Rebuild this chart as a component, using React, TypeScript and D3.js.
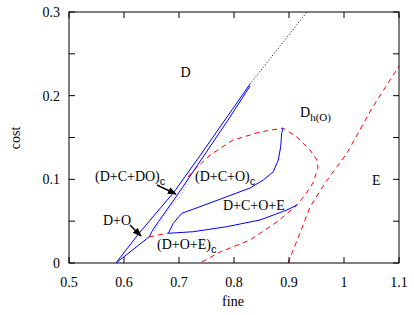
import React, { useEffect, useRef } from "react";
import * as d3 from "d3";

// phase boundaries as [fine, cost]
const outerBlue: [number, number][] = [
  [0.5855, 0], [0.6273, 0.0355], [0.6909, 0.0848], [0.7364, 0.1266], [0.8291, 0.2139],
];
const innerBlue: [number, number][] = [
  [0.5855, 0], [0.646, 0.0314], [0.6504, 0.0374], [0.6624, 0.0493], [0.6945, 0.0789],
  [0.7891, 0.1708], [0.8291, 0.2115],
];
const dottedBlue: [number, number][] = [
  [0.6545, 0.0382], [0.6727, 0.0562], [0.6909, 0.0717], [0.7036, 0.08], [0.7145, 0.0956],
];
const loopUpper: [number, number][] = [
  [0.6805, 0.0355], [0.6896, 0.0474], [0.7049, 0.0594], [0.7382, 0.0673], [0.7867, 0.0792],
  [0.8291, 0.0896], [0.8533, 0.0992], [0.8715, 0.1091], [0.8805, 0.1231], [0.8849, 0.1389],
  [0.8867, 0.155], [0.8891, 0.1613],
];
const loopLower: [number, number][] = [
  [0.6805, 0.0355], [0.726, 0.0374], [0.7867, 0.0434], [0.8473, 0.0514], [0.8958, 0.0633],
  [0.9145, 0.0693],
];
const redLoop: [number, number][] = [
  [0.7164, 0.1027], [0.7236, 0.1087], [0.7564, 0.129], [0.7982, 0.147], [0.8473, 0.1565],
  [0.8891, 0.1613], [0.9145, 0.1505], [0.9382, 0.135], [0.9509, 0.1231], [0.9527, 0.1135],
  [0.9436, 0.0956], [0.9291, 0.0812], [0.9145, 0.0693], [0.8782, 0.049], [0.8291, 0.0275],
  [0.7745, 0.0131], [0.7382, 0],
];
const redStub: [number, number][] = [[0.6455, 0.0311], [0.68, 0.0358]];
const redE: [number, number][] = [
  [0.8982, 0], [0.9164, 0.0299], [0.9382, 0.0669], [0.9655, 0.0956], [1.0055, 0.1314],
  [1.0509, 0.1852], [1.1, 0.2354],
];
const blackDotted: [number, number][] = [[0.8291, 0.2139], [0.9327, 0.3]];

const xTicks = [0.5, 0.6, 0.7, 0.8, 0.9, 1, 1.1];
const xTickLabels = ["0.5", "0.6", "0.7", "0.8", "0.9", "1", "1.1"];
const yTicks = [0, 0.1, 0.2, 0.3];
const yTickLabels = ["0", "0.1", "0.2", "0.3"];
const yMinorTicks = [0.05, 0.15, 0.25];

// [label, subscript, x, y]
const labels: [string, string, number, number][] = [
  ["D", "", 0.7025, 0.2222],
  ["D", "h(O)", 0.92, 0.1744],
  ["E", "", 1.0509, 0.0932],
  ["(D+C+DO)", "c", 0.5473, 0.098],
  ["D+O", "", 0.5618, 0.0454],
  ["(D+C+O)", "c", 0.7291, 0.098],
  ["D+C+O+E", "", 0.78, 0.0633],
  ["(D+O+E)", "c", 0.66, 0.0167],
];
// [x1, y1, x2, y2]
const arrows: [number, number, number, number][] = [
  [0.66, 0.0932, 0.6945, 0.0824],
  [0.6109, 0.0454, 0.6309, 0.0323],
];

export default function App() {
  const ref = useRef<SVGSVGElement>(null);
  const width = 414, height = 315;
  const left = 69, right = 399, top = 12, bottom = 263;

  useEffect(() => {
    const svg = d3.select(ref.current);
    svg.selectAll("*").remove();
    const x = d3.scaleLinear().domain([0.5, 1.1]).range([left, right]);
    const y = d3.scaleLinear().domain([0, 0.3]).range([bottom, top]);
    const font = "'Liberation Serif', 'Times New Roman', serif";

    const defs = svg.append("defs");
    defs.append("marker")
      .attr("id", "head")
      .attr("viewBox", "0 0 10 10")
      .attr("refX", 9).attr("refY", 5)
      .attr("markerWidth", 6).attr("markerHeight", 6)
      .attr("orient", "auto")
      .append("path").attr("d", "M0,1 L10,5 L0,9 Z").attr("fill", "black");

    const line = d3.line<[number, number]>().x(d => x(d[0])).y(d => y(d[1]));
    const g = svg.append("g");

    const draw = (pts: [number, number][], color: string, dash: string | null, w = 1) => {
      g.append("path")
        .attr("d", line(pts))
        .attr("fill", "none")
        .attr("stroke", color)
        .attr("stroke-width", w)
        .attr("stroke-dasharray", dash);
    };

    draw(redLoop, "#ff0000", "5,4");
    draw(redStub, "#ff0000", "5,4");
    draw(redE, "#ff0000", "5,4");
    draw(blackDotted, "#000000", "1,2");
    draw(dottedBlue, "#8080ff", "1,2");
    draw(outerBlue, "#0000ff", null);
    draw(innerBlue, "#0000ff", null);
    draw(loopUpper, "#0000ff", null);
    draw(loopLower, "#0000ff", null);

    // frame and ticks
    svg.append("rect")
      .attr("x", left).attr("y", top)
      .attr("width", right - left).attr("height", bottom - top)
      .attr("fill", "none").attr("stroke", "black").attr("stroke-width", 1);

    const tl = 6;
    xTicks.forEach(t => {
      svg.append("line").attr("x1", x(t)).attr("x2", x(t)).attr("y1", bottom).attr("y2", bottom - tl).attr("stroke", "black");
      svg.append("line").attr("x1", x(t)).attr("x2", x(t)).attr("y1", top).attr("y2", top + tl).attr("stroke", "black");
    });
    [...yTicks, ...yMinorTicks].forEach(t => {
      svg.append("line").attr("x1", left).attr("x2", left + tl).attr("y1", y(t)).attr("y2", y(t)).attr("stroke", "black");
      svg.append("line").attr("x1", right).attr("x2", right - tl).attr("y1", y(t)).attr("y2", y(t)).attr("stroke", "black");
    });

    xTicks.forEach((t, i) => {
      svg.append("text").attr("x", x(t)).attr("y", bottom + 24)
        .attr("text-anchor", "middle").attr("font-family", font).attr("font-size", 14)
        .text(xTickLabels[i]);
    });
    yTicks.forEach((t, i) => {
      svg.append("text").attr("x", left - 9).attr("y", y(t) + 5)
        .attr("text-anchor", "end").attr("font-family", font).attr("font-size", 14)
        .text(yTickLabels[i]);
    });

    svg.append("text").attr("x", 233).attr("y", 306)
      .attr("text-anchor", "middle").attr("font-family", font).attr("font-size", 14).text("fine");
    svg.append("text").attr("transform", "translate(20,138) rotate(-90)")
      .attr("text-anchor", "middle").attr("font-family", font).attr("font-size", 14).text("cost");

    labels.forEach(([txt, sub, lx, ly]) => {
      const t = svg.append("text").attr("x", x(lx)).attr("y", y(ly))
        .attr("font-family", font).attr("font-size", 14);
      t.append("tspan").text(txt);
      if (sub) {
        t.append("tspan").attr("dy", 4).attr("font-size", 11)
          .attr("font-family", sub === "c" ? "'Liberation Sans', Arial, sans-serif" : font)
          .text(sub);
      }
    });

    arrows.forEach(([x1, y1, x2, y2]) => {
      svg.append("line")
        .attr("x1", x(x1)).attr("y1", y(y1)).attr("x2", x(x2)).attr("y2", y(y2))
        .attr("stroke", "black").attr("stroke-width", 1.5)
        .attr("marker-end", "url(#head)");
    });
  }, []);

  return (
    <svg ref={ref} width={width} height={height}
      style={{ position: "absolute", left: 0, top: 0, background: "white" }} />
  );
}
